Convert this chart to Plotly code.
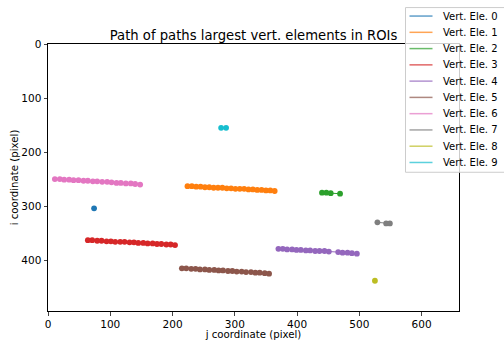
import plotly.graph_objects as go

names = [f"Vert. Ele. {i}" for i in range(10)]
colors = ["#1f77b4", "#ff7f0e", "#2ca02c", "#d62728", "#9467bd",
          "#8c564b", "#e377c2", "#7f7f7f", "#bcbd22", "#17becf"]

ele0_j = [74]
ele0_i = [304]
ele1_j = [224, 231, 238, 245, 252, 259, 266, 273, 280, 287, 294, 301, 308, 315, 322, 329, 336, 343, 350, 357, 364]
ele1_i = [263, 263, 264, 264, 265, 265, 266, 266, 266, 267, 267, 268, 268, 268, 269, 269, 270, 270, 271, 271, 272]
ele2_j = [440, 447, 454, 469]
ele2_i = [275, 275, 276, 277]
ele3_j = [64, 71, 79, 86, 94, 101, 108, 116, 123, 131, 138, 145, 153, 160, 168, 175, 182, 190, 197, 204]
ele3_i = [363, 363, 364, 364, 365, 365, 366, 366, 366, 367, 367, 368, 368, 369, 369, 370, 370, 371, 371, 372]
ele4_j = [370, 377, 384, 392, 399, 406, 414, 421, 429, 436, 444, 451, 466, 473, 481, 488, 496]
ele4_i = [379, 379, 380, 380, 381, 381, 382, 382, 383, 383, 383, 384, 385, 386, 386, 387, 388]
ele5_j = [215, 222, 230, 237, 244, 252, 259, 267, 274, 281, 289, 296, 303, 311, 318, 326, 333, 340, 348, 355]
ele5_i = [415, 415, 416, 416, 417, 417, 418, 418, 419, 419, 420, 420, 421, 421, 422, 422, 423, 423, 424, 425]
ele6_j = [11, 19, 26, 34, 41, 49, 57, 64, 72, 79, 87, 95, 102, 110, 117, 125, 133, 140, 148]
ele6_i = [250, 250, 251, 251, 252, 252, 253, 253, 254, 254, 255, 255, 256, 257, 257, 258, 258, 259, 260]
ele7_j = [529, 543, 549]
ele7_i = [330, 332, 332]
ele8_j = [525]
ele8_i = [438]
ele9_j = [278, 286]
ele9_i = [155, 155]

series_j = [ele0_j, ele1_j, ele2_j, ele3_j, ele4_j, ele5_j, ele6_j, ele7_j, ele8_j, ele9_j]
series_i = [ele0_i, ele1_i, ele2_i, ele3_i, ele4_i, ele5_i, ele6_i, ele7_i, ele8_i, ele9_i]

x_ticks = [0, 100, 200, 300, 400, 500, 600]
y_ticks = [0, 100, 200, 300, 400]

W, H = 504, 340
L, R, T, B = 48, 459, 43.5, 311


def px(xp):
    return (xp - L) / (R - L)


def py(yp):
    return (B - yp) / (B - T)


fig = go.Figure()
for n, c, xs, ys in zip(names, colors, series_j, series_i):
    fig.add_trace(go.Scatter(x=xs, y=ys, mode="lines+markers", name=n, showlegend=False,
                             line=dict(color=c, width=1),
                             marker=dict(color=c, size=5.8)))

font = "DejaVu Sans"

# legend box (drawn manually to match matplotlib spacing)
shapes = [dict(type="rect", xref="paper", yref="paper",
               x0=px(405.5), x1=px(512), y0=py(172), y1=py(7),
               fillcolor="rgba(255,255,255,0.8)", line=dict(color="#cccccc", width=1),
               layer="above")]
annotations = []
row0, step = 15.5, 16.3
for k, (n, c) in enumerate(zip(names, colors)):
    yy = row0 + k * step
    shapes.append(dict(type="line", xref="paper", yref="paper",
                       x0=px(409.5), x1=px(432.5), y0=py(yy), y1=py(yy),
                       line=dict(color=c, width=1.5), opacity=0.7, layer="above"))
    annotations.append(dict(text=n, xref="paper", yref="paper", x=px(440.5), y=py(yy),
                            xanchor="left", yanchor="middle", showarrow=False,
                            font=dict(size=10, family=font, color="black")))

fig.update_layout(
    width=W, height=H,
    margin=dict(l=L, r=W - R, t=T, b=H - B),
    paper_bgcolor="white", plot_bgcolor="white",
    font=dict(family=font, size=10.5, color="black"),
    showlegend=False,
    title=dict(text="Path of paths largest vert. elements in ROIs",
               x=0.503, xanchor="center", y=1 - 35 / H, yanchor="middle",
               font=dict(size=13.2, family=font, color="black")),
    shapes=shapes, annotations=annotations,
)
fig.update_xaxes(range=[0, 660], tickvals=x_ticks, ticks="outside", ticklen=3.5,
                 showline=True, mirror=True, linecolor="black", linewidth=1,
                 showgrid=False, zeroline=False, automargin=False,
                 title=dict(text="j coordinate (pixel)", standoff=4, font=dict(size=10.2)))
fig.update_yaxes(range=[494, 0], tickvals=y_ticks, ticks="outside", ticklen=3.5,
                 showline=True, mirror=True, linecolor="black", linewidth=1,
                 showgrid=False, zeroline=False, automargin=False,
                 title=dict(text="i coordinate (pixel)", standoff=0, font=dict(size=10.2)))

fig.write_html("out.html")
